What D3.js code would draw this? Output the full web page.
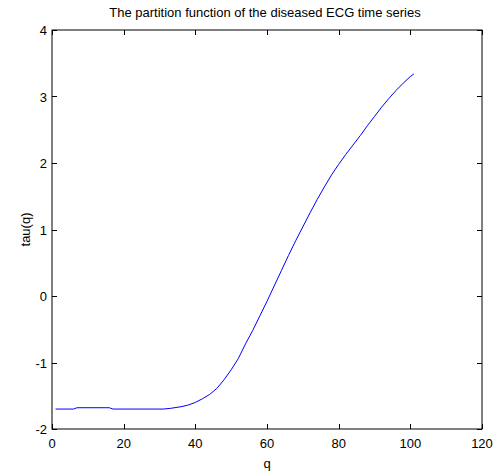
<!DOCTYPE html>
<html><head><meta charset="utf-8">
<script src="https://cdn.jsdelivr.net/npm/d3@7"></script>
<style>body{margin:0;background:#fff;}text{font-family:"Liberation Sans",Arial,sans-serif;fill:#000;}</style>
</head><body>
<svg id="c" width="495" height="474"></svg>
<script>
const titleText = "The partition function of the diseased ECG time series";
const xLabel = "q";
const yLabel = "tau(q)";
const xTicks = [0, 20, 40, 60, 80, 100, 120];
const yTicks = [-2, -1, 0, 1, 2, 3, 4];
const qValues = [1, 6, 7, 16, 17, 31, 33, 36, 38, 40, 42, 44, 46, 48, 50, 52, 54, 56, 58, 60, 62, 64, 66, 68, 70, 72, 74, 76, 78, 80, 82, 84, 86, 88, 90, 92, 94, 96, 98, 100, 101];
const tauValues = [-1.70, -1.70, -1.68, -1.68, -1.70, -1.70, -1.69, -1.665, -1.64, -1.60, -1.545, -1.48, -1.39, -1.26, -1.11, -0.94, -0.72, -0.52, -0.30, -0.08, 0.15, 0.38, 0.61, 0.83, 1.04, 1.25, 1.45, 1.64, 1.82, 1.98, 2.13, 2.27, 2.41, 2.56, 2.70, 2.84, 2.97, 3.09, 3.20, 3.30, 3.34];

const svg = d3.select("#c");
const L = 52, R = 482, T = 30, B = 429;
const x = d3.scaleLinear().domain([0, 120]).range([L, R]);
const y = d3.scaleLinear().domain([-2, 4]).range([B, T]);
const fs = 13;

svg.append("rect").attr("x", L).attr("y", T).attr("width", R - L).attr("height", B - T)
  .attr("fill", "none").attr("stroke", "#000").attr("stroke-width", 1);

const tl = 5;
xTicks.forEach(t => {
  const px = Math.round(x(t)) + 0.5;
  svg.append("line").attr("x1", px).attr("x2", px).attr("y1", B).attr("y2", B - tl).attr("stroke", "#000");
  svg.append("line").attr("x1", px).attr("x2", px).attr("y1", T).attr("y2", T + tl).attr("stroke", "#000");
  svg.append("text").attr("x", x(t)).attr("y", B + 19).attr("text-anchor", "middle")
    .attr("font-size", fs).text(t);
});
yTicks.forEach(t => {
  const py = Math.round(y(t)) + 0.5;
  svg.append("line").attr("x1", L).attr("x2", L + tl).attr("y1", py).attr("y2", py).attr("stroke", "#000");
  svg.append("line").attr("x1", R).attr("x2", R - tl).attr("y1", py).attr("y2", py).attr("stroke", "#000");
  svg.append("text").attr("x", L - 5).attr("y", y(t) + 5).attr("text-anchor", "end")
    .attr("font-size", fs).text(t);
});

const data = qValues.map((q, i) => [q, tauValues[i]]);
svg.append("path").datum(data)
  .attr("d", d3.line().x(d => x(d[0])).y(d => y(d[1])))
  .attr("fill", "none").attr("stroke", "#0000ff").attr("stroke-width", 1);

svg.append("text").attr("x", 265).attr("y", 17).attr("text-anchor", "middle")
  .attr("font-size", fs).text(titleText);
svg.append("text").attr("x", (L + R) / 2).attr("y", 468).attr("text-anchor", "middle")
  .attr("font-size", fs).text(xLabel);
svg.append("text").attr("transform", `translate(30,${(T + B) / 2}) rotate(-90)`)
  .attr("text-anchor", "middle").attr("font-size", fs).text(yLabel);
</script>
</body></html>
